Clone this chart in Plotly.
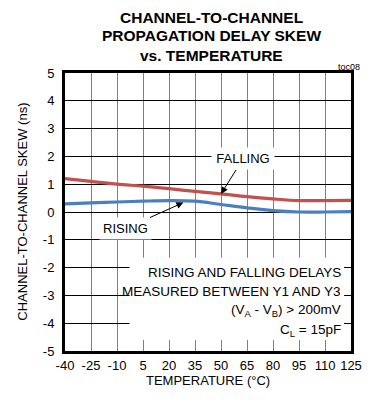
import plotly.graph_objects as go

temps = [-40, -25, -10, 5, 20, 35, 50, 65, 80, 95, 110, 125]
falling = [1.20, 1.10, 1.00, 0.93, 0.84, 0.74, 0.65, 0.55, 0.47, 0.41, 0.41, 0.42]
rising = [0.29, 0.33, 0.36, 0.39, 0.41, 0.39, 0.27, 0.15, 0.05, 0.00, 0.00, 0.01]
x_ticks = [-40, -25, -10, 5, 20, 35, 50, 65, 80, 95, 110, 125]
y_ticks = [5, 4, 3, 2, 1, 0, -1, -2, -3, -4, -5]
title_lines = ["CHANNEL-TO-CHANNEL", "PROPAGATION DELAY SKEW", "vs. TEMPERATURE"]
cond_lines = ["RISING AND FALLING DELAYS", "MEASURED BETWEEN Y1 AND Y3",
              "(V<sub>A</sub> - V<sub>B</sub>) > 200mV", "C<sub>L</sub> = 15pF"]

FONT = "Liberation Sans, Arial, sans-serif"
RED = "#C4504D"
BLUE = "#4A80C0"

fig = go.Figure()
fig.add_trace(go.Scatter(x=temps, y=falling, mode="lines",
                         line=dict(color=RED, width=3.2, shape="spline"),
                         showlegend=False, hoverinfo="skip"))
fig.add_trace(go.Scatter(x=temps, y=rising, mode="lines",
                         line=dict(color=BLUE, width=3.2, shape="spline"),
                         showlegend=False, hoverinfo="skip"))

# white box behind condition text (hides grid)
fig.add_shape(type="rect", xref="x", yref="y", x0=-2.8, x1=121, y0=-4.6, y1=-1.65,
              fillcolor="white", line=dict(width=0), layer="between")

fig.add_annotation(x=50, y=0.65, text="FALLING", showarrow=True, ax=22, ay=-35,
                   arrowhead=2, arrowsize=1.4, arrowwidth=1, arrowcolor="black",
                   bgcolor="white", borderpad=3, width=56,
                   font=dict(family=FONT, size=13, color="black"))
fig.add_annotation(x=28.3, y=0.34, text="RISING", showarrow=True, ax=-58, ay=26,
                   arrowhead=2, arrowsize=1.4, arrowwidth=1, arrowcolor="black",
                   bgcolor="white", borderpad=3,
                   font=dict(family=FONT, size=13, color="black"))

cond_y = [-2.17, -2.87, -3.56, -4.27]
for t, yy in zip(cond_lines, cond_y):
    fig.add_annotation(x=120.5, y=yy, text=t, showarrow=False, xanchor="right",
                       font=dict(family=FONT, size=13.5, color="black"))

# title lines
for t, yy in zip(title_lines, [1.2014, 1.1331, 1.0612]):
    fig.add_annotation(xref="paper", yref="paper", x=0.5, y=yy, xshift=3, text="<b>" + t + "</b>",
                       showarrow=False, xanchor="center", yanchor="middle",
                       font=dict(family=FONT, size=15.5, color="black"))

fig.add_annotation(xref="paper", yref="paper", x=1.0, y=1.0, xshift=11, yshift=-1, text="toc08",
                   showarrow=False, xanchor="right", yanchor="bottom",
                   font=dict(family=FONT, size=9, color="black"))

fig.add_annotation(xref="paper", yref="paper", x=-0.1515, y=0.5,
                   text="CHANNEL-TO-CHANNEL SKEW (ns)", textangle=-90, showarrow=False,
                   xanchor="center", yanchor="middle",
                   font=dict(family=FONT, size=13, color="black"))

fig.add_annotation(xref="paper", yref="paper", x=0.5, y=-0.1079,
                   text="TEMPERATURE (°C)", showarrow=False,
                   xanchor="center", yanchor="middle",
                   font=dict(family=FONT, size=13, color="black"))

fig.update_layout(
    width=370, height=404,
    margin=dict(l=65, r=8, t=73, b=53),
    paper_bgcolor="white", plot_bgcolor="white",
    font=dict(family=FONT, size=13, color="black"),
    xaxis=dict(range=[-40, 125], tickvals=x_ticks, ticktext=[str(v) for v in x_ticks],
               showgrid=True, gridcolor="#808080", gridwidth=1,
               showline=True, linecolor="black", linewidth=3, mirror=True,
               ticks="", zeroline=False,
               tickfont=dict(family=FONT, size=13)),
    yaxis=dict(range=[-5, 5], tickvals=y_ticks, ticktext=[str(v) for v in y_ticks],
               showgrid=True, gridcolor="black", gridwidth=1,
               showline=True, linecolor="black", linewidth=3, mirror=True,
               ticks="", zeroline=False, ticklabelstandoff=5,
               tickfont=dict(family=FONT, size=13)),
)

fig.write_html("out.html")
